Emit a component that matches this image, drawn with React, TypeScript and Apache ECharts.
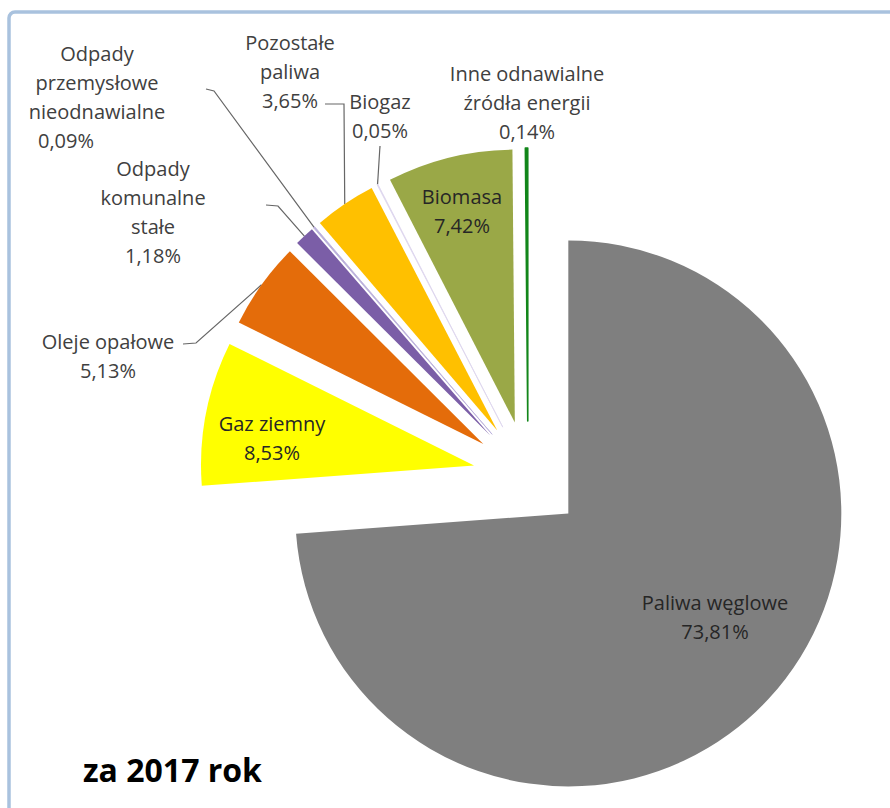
import React, { useEffect, useRef } from "react";
import * as echarts from "echarts";

// ---- data ----
const categories: string[] = [
  "Paliwa węglowe",
  "Gaz ziemny",
  "Oleje opałowe",
  "Odpady\nkomunalne\nstałe",
  "Odpady\nprzemysłowe\nnieodnawialne",
  "Pozostałe\npaliwa",
  "Biogaz",
  "Biomasa",
  "Inne odnawialne\nźródła energii",
];
const shares: number[] = [73.81, 8.53, 5.13, 1.18, 0.09, 3.65, 0.05, 7.42, 0.14];
const colors: string[] = [
  "#7f7f7f",
  "#ffff00",
  "#e46c0a",
  "#7b5ea7",
  "#b9aedb",
  "#ffc000",
  "#ddd5ee",
  "#9aa847",
  "#12861a",
];
const titleText = "za 2017 rok";

// ---- layout ----
const CENTER = [528, 476];
const RADIUS = 273;
const EXPLODE = 55;
const FONT = '"Open Sans", "Noto Sans", sans-serif';

type Placement = { x: number; y: number; inside?: boolean; line?: number[][]; noLine?: boolean };
const placement: Placement[] = [
  { x: 715, y: 617, inside: true },
  { x: 272, y: 438, inside: true },
  { x: 108, y: 356, line: [[196, 343], [183, 344]] },
  { x: 153, y: 212, line: [[278, 206], [266, 205]] },
  { x: 97, y: 97, line: [[214, 91], [206, 89]] },
  { x: 290, y: 71, line: [[344, 104], [325, 104]] },
  { x: 380, y: 116, line: [[380, 146]] },
  { x: 462, y: 211, inside: true },
  { x: 527, y: 102, noLine: true },
];

const total = shares.reduce((a, b) => a + b, 0);
function midDir(i: number): number[] {
  let before = 0;
  for (let j = 0; j < i; j++) before += shares[j];
  const mid = ((before + shares[i] / 2) / total) * Math.PI * 2;
  return [Math.sin(mid), -Math.cos(mid)];
}
const fmt = (v: number) => v.toFixed(2).replace(".", ",") + "%";

export default function App() {
  const ref = useRef<HTMLDivElement>(null);
  useEffect(() => {
    document.body.style.margin = "0";
    if (!ref.current) return;
    const chart = echarts.init(ref.current, undefined, { renderer: "svg" });

    const series = categories.map((_, i) => {
      const u = midDir(i);
      const cx = CENTER[0] + EXPLODE * u[0];
      const cy = CENTER[1] + EXPLODE * u[1];
      const anchor = [cx + RADIUS * u[0], cy + RADIUS * u[1]];
      const pl = placement[i];
      const thin = shares[i] < 0.5;
      return {
        type: "pie",
        center: [cx, cy],
        radius: RADIUS,
        startAngle: 90,
        clockwise: true,
        silent: true,
        minAngle: 0,
        avoidLabelOverlap: false,
        data: categories.map((name, j) => ({
          name,
          value: shares[j],
          itemStyle:
            j === i
              ? {
                  color: colors[j],
                  borderColor: colors[j],
                  borderWidth: thin ? (j === 8 ? 1.6 : 0.8) : 0,
                }
              : { color: "rgba(0,0,0,0)", borderWidth: 0 },
          label: { show: j === i },
          labelLine: { show: j === i && !pl.inside && !pl.noLine },
        })),
        label: {
          position: pl.inside ? "inside" : "outside",
          formatter: (p: any) =>
            i === 4 ? `${p.name}\n{pct|${fmt(p.value)}}` : `${p.name}\n${fmt(p.value)}`,
          rich: {
            pct: {
              fontFamily: FONT,
              fontSize: 20,
              lineHeight: 29,
              color: "#404040",
              padding: [0, 62, 0, 0],
            },
          },
          fontFamily: FONT,
          fontSize: 20,
          lineHeight: 29,
          color: pl.inside ? "#262626" : "#404040",
          overflow: "none",
          align: "center",
        },
        labelLine: {
          length: 10,
          length2: 10,
          lineStyle: { color: "#666666", width: 1.2 },
        },
        labelLayout: (p: any) => {
          if (p.dataIndex !== i) return {};
          const res: any = {
            x: pl.x,
            y: pl.y,
            align: "center",
            verticalAlign: "middle",
          };
          if (pl.line) res.labelLinePoints = [anchor, ...pl.line];
          return res;
        },
      };
    });

    chart.setOption({
      animation: false,
      backgroundColor: "#ffffff",
      title: {
        text: titleText,
        left: 83,
        top: 753,
        padding: 0,
        textStyle: {
          fontFamily: FONT,
          fontSize: 32,
          fontWeight: "bold",
          color: "#000000",
        },
      },
      graphic: [
        {
          type: "rect",
          silent: true,
          z: 100,
          shape: { x: 9, y: 12, width: 900, height: 820, r: 6 },
          style: { fill: "none", stroke: "#a9c2de", lineWidth: 3.5 },
        },
      ],
      series,
    });
    return () => chart.dispose();
  }, []);
  return <div ref={ref} style={{ width: 890, height: 808 }} />;
}
